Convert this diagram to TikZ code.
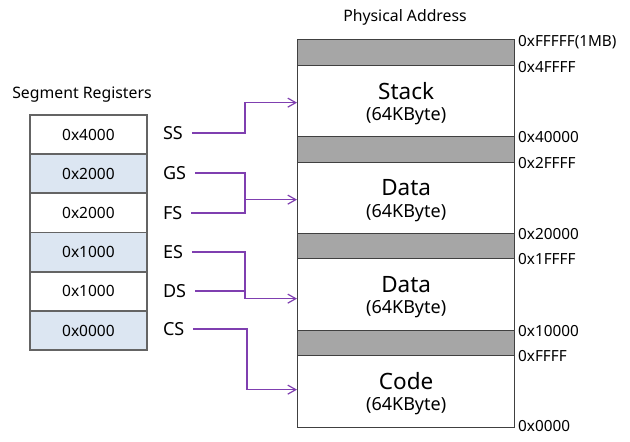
\documentclass[tikz,border=0pt]{standalone}
\usepackage{fontspec}
\setmainfont{Noto Sans}
\usetikzlibrary{arrows.meta,calc}
\definecolor{regblue}{HTML}{DCE6F2}
\definecolor{gapgray}{HTML}{A6A6A6}
\definecolor{edgegray}{HTML}{404040}
\definecolor{tabgray}{HTML}{646464}
\definecolor{conn}{HTML}{7F3FB0}
\tikzset{
  memblk/.style={draw=edgegray, line width=1.3pt, fill=white, minimum width=217pt, anchor=north west, inner sep=0pt},
  gapblk/.style={memblk, fill=gapgray},
  regrow/.style={draw=tabgray, line width=1.8pt, fill=white, minimum width=117pt, minimum height=39.2pt, anchor=north west, inner sep=0pt, font=\fontsize{15.5}{18}\selectfont},
  regrowb/.style={regrow, fill=regblue},
  reglab/.style={anchor=west, inner sep=0pt, outer xsep=9pt, font=\fontsize{18}{21}\selectfont},
  addr/.style={anchor=west, inner sep=0pt, font=\fontsize{15.3}{18}\selectfont},
  ttl/.style={font=\fontsize{22.5}{26}\selectfont},
  sub/.style={font=\fontsize{18}{21}\selectfont},
  head/.style={font=\fontsize{15.8}{19}\selectfont},
  link/.style={draw=conn, line width=1.2pt, -{Straight Barb[length=8pt,width=9pt]}},
  linkn/.style={draw=conn, line width=1.2pt}
}
\begin{document}
\begin{tikzpicture}[x=1pt,y=-1pt]
\useasboundingbox (0,0) rectangle (630,442);
% headings
\node[head] (phys) at (405,17) {Physical Address};
\node[head] (segh) at (82,95) {Segment Registers};
% memory map
\node[gapblk, minimum height=26pt] (g1) at (297,39) {};
\node[memblk, minimum height=71pt] (stack) at (297,65) {};
\node[gapblk, minimum height=26pt] (g2) at (297,136) {};
\node[memblk, minimum height=71pt] (data1) at (297,162) {};
\node[gapblk, minimum height=25pt] (g3) at (297,233) {};
\node[memblk, minimum height=72pt] (data2) at (297,258) {};
\node[gapblk, minimum height=25pt] (g4) at (297,330) {};
\node[memblk, minimum height=72pt] (code) at (297,355) {};
% block texts
\node[ttl] (stackt) at ([yshift=10.5pt]stack.center) {Stack};
\node[sub] (stacks) at ([yshift=-14.5pt]stack.center) {(64KByte)};
\node[ttl] (data1t) at ([yshift=10.5pt]data1.center) {Data};
\node[sub] (data1s) at ([yshift=-14.5pt]data1.center) {(64KByte)};
\node[ttl] (data2t) at ([yshift=10.5pt]data2.center) {Data};
\node[sub] (data2s) at ([yshift=-14.5pt]data2.center) {(64KByte)};
\node[ttl] (codet) at ([yshift=10.5pt]code.center) {Code};
\node[sub] (codes) at ([yshift=-14.5pt]code.center) {(64KByte)};
% addresses
\node[addr] (a1) at (518,42) {0xFFFFF(1MB)};
\node[addr] (a2) at (518,67) {0x4FFFF};
\node[addr] (a3) at (518,137) {0x40000};
\node[addr] (a4) at (518,163) {0x2FFFF};
\node[addr] (a5) at (518,234) {0x20000};
\node[addr] (a6) at (518,259) {0x1FFFF};
\node[addr] (a7) at (518,331) {0x10000};
\node[addr] (a8) at (518,356) {0xFFFF};
\node[addr] (a9) at (518,426) {0x0000};
% registers
\node[regrow]  (r1) at (29,114)   {0x4000};
\node[regrowb] (r2) at (29,153.2) {0x2000};
\node[regrow]  (r3) at (29,192.4) {0x2000};
\node[regrowb] (r4) at (29,231.6) {0x1000};
\node[regrow]  (r5) at (29,270.8) {0x1000};
\node[regrowb] (r6) at (29,310)   {0x0000};
\node[reglab] (ss) at (154,133) {SS};
\node[reglab] (gs) at (154,173) {GS};
\node[reglab] (fs) at (154,213) {FS};
\node[reglab] (es) at (154,252) {ES};
\node[reglab] (ds) at (154,291) {DS};
\node[reglab] (cs) at (154,329) {CS};
% connectors
\coordinate (jx) at (245,0);
\coordinate (jc) at (247,0);
\draw[link] (ss.east) -- (ss.east -| jx) |- ([yshift=-1.5pt]stack.west);
\draw[linkn] (gs.east) -- (gs.east -| jx) -- (fs.east -| jx);
\draw[link] (fs.east) -- (fs.east -| jx) |- ([yshift=-1.5pt]data1.west);
\draw[linkn] (es.east) -- (es.east -| jx) -- (ds.east -| jx);
\draw[link] (ds.east) -- (ds.east -| jx) |- ([yshift=-4pt]data2.west);
\draw[link] (cs.east) -- (cs.east -| jc) |- ([yshift=2pt]code.west);
\end{tikzpicture}
\end{document}
